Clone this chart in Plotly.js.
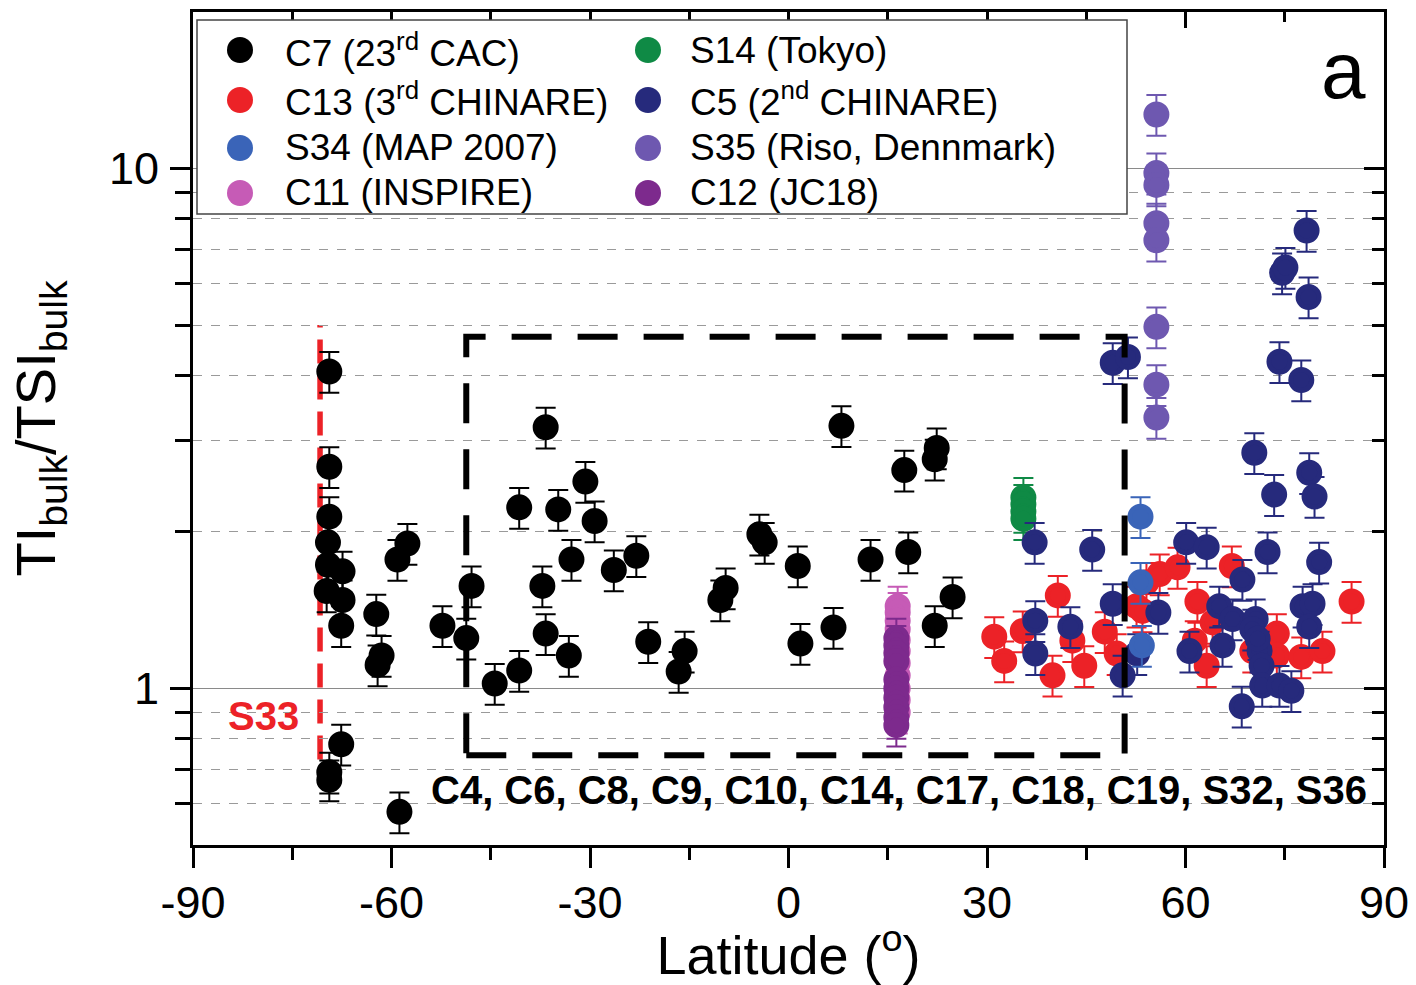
<!DOCTYPE html>
<html>
<head>
<meta charset="utf-8">
<script src="https://cdn.plot.ly/plotly-3.0.1.min.js"></script>
<style>
html,body{margin:0;padding:0;background:#fff;}
#chart{width:1416px;height:985px;}
</style>
</head>
<body>
<div id="chart"></div>
<script>
// ---------- DATA ----------
const seriesNames = [
  "C7 (23<sup>rd</sup> CAC)", "S14 (Tokyo)",
  "C13 (3<sup>rd</sup> CHINARE)", "C5 (2<sup>nd</sup> CHINARE)",
  "S34 (MAP 2007)", "S35 (Riso, Dennmark)",
  "C11 (INSPIRE)", "C12 (JC18)"
];
const seriesColors = ["#000000","#0f8a45","#ec2227","#262a7c","#3a64b8","#6e58b0","#c65bb6","#7d2a8d"];

const c7Lat = [-69.4,-69.4,-69.4,-69.6,-69.6,-67.4,-69.8,-67.4,-67.6,-67.6,-69.4,-69.4,-62.3,-61.5,-62.1,-59.1,-57.6,-58.8,-52.3,-47.9,-48.7,-44.4,-40.7,-40.7,-36.7,-37.2,-36.7,-34.8,-33.2,-32.8,-30.7,-29.3,-26.4,-23.0,-21.2,-15.7,-16.6,-9.5,-10.3,-4.4,-3.6,1.4,1.8,6.8,8.0,12.4,17.5,18.1,22.1,22.4,22.1,24.8];
const c7Val = [4.07,2.67,2.14,1.91,1.73,1.68,1.54,1.48,1.32,0.781,0.69,0.667,1.39,1.157,1.11,1.77,1.90,0.579,1.32,1.575,1.25,1.022,1.083,2.23,3.18,1.575,1.275,2.21,1.157,1.77,2.50,2.10,1.69,1.80,1.23,1.18,1.078,1.56,1.48,1.98,1.91,1.72,1.22,1.31,3.20,1.77,2.63,1.83,2.76,2.90,1.32,1.50];

const s14Lat = [35.5,35.5,35.5,35.5];
const s14Val = [2.33,2.26,2.19,2.12];

const c13Lat = [31.1,32.6,35.4,40.7,39.9,42.9,44.7,47.8,49.6,52.6,53.5,54.1,56.1,58.8,61.8,64.1,63.2,61.4,67.0,73.8,73.8,70.1,77.5,80.7,85.1];
const c13Val = [1.258,1.13,1.29,1.51,1.06,1.236,1.106,1.286,1.167,1.44,1.41,1.60,1.66,1.71,1.47,1.34,1.106,1.236,1.72,1.275,1.157,1.18,1.15,1.18,1.47];

const c5Lat = [49.0,51.3,74.2,77.5,70.4,78.7,73.4,79.5,37.2,45.9,60.1,63.2,72.4,80.2,68.6,49.0,55.9,65.1,67.1,70.6,77.7,79.2,78.7,37.3,42.6,37.3,52.7,60.6,65.6,50.5,71.2,71.5,71.6,74.2,76.0,68.5,70.1,70.9,78.3,74.6,75.1,78.6];
const c5Val = [4.23,4.34,4.25,3.92,2.84,2.60,2.36,2.34,1.91,1.85,1.91,1.87,1.83,1.75,1.62,1.455,1.40,1.44,1.36,1.36,1.44,1.455,1.315,1.35,1.315,1.167,1.167,1.18,1.21,1.06,1.18,1.106,1.013,1.013,0.99,0.924,1.30,1.247,7.6,6.3,6.45,5.66];

const s34Lat = [53.2,53.2,53.4];
const s34Val = [2.14,1.60,1.21];

const s35Lat = [55.6,55.6,55.6,55.6,55.6,55.6,55.6,55.6];
const s35Val = [12.7,9.8,9.3,7.85,7.28,4.96,3.84,3.32];

const c11Lat = [16.5,16.5,16.5,16.5,16.5,16.5,16.5,16.5,16.5,16.5,16.5];
const c11Val = [1.44,1.40,1.35,1.30,1.24,1.18,1.12,1.06,1.00,0.95,0.90];

const c12Lat = [16.3,16.3,16.3,16.3,16.3,16.3,16.3,16.3,16.3,16.3];
const c12Val = [1.25,1.21,1.17,1.13,1.04,1.00,0.96,0.92,0.88,0.85];

const errPercent = 9;

const xTickVals = [-90,-60,-30,0,30,60,90];
const xTickText = ["-90","-60","-30","0","30","60","90"];
const xMinorVals = [-75,-45,-15,15,45,75];
const yTickVals = [1,10];
const yTickText = ["1","10"];
const yMinorVals = [0.6,0.7,0.8,0.9,2,3,4,5,6,7,8,9];

// overlay annotations
const boxLat = [-48.7, 50.8];
const boxVal = [0.744, 4.75];
const s33Lat = -70.8;
const s33Val = [0.73, 5.0];
const s33Label = {text:"S33", lat:-79.4, val:0.884};
const otherLabel = {text:"C4, C6, C8, C9, C10, C14, C17, C18, C19, S32, S36", lat:87.8, val:0.638};
const panelLabel = "a";

// ---------- LAYOUT HELPERS (pixel -> paper) ----------
const W = 1416, H = 985, ML = 193, MR = 32, MT = 12, MB = 140;
const PW = W - ML - MR, PH = H - MT - MB;
const px = v => (v - ML) / PW;
const py = v => (H - MB - v) / PH;

// ---------- TRACES ----------
const seriesData = [
  [c7Lat,c7Val],[s14Lat,s14Val],[c13Lat,c13Val],[c5Lat,c5Val],
  [s34Lat,s34Val],[s35Lat,s35Val],[c11Lat,c11Val],[c12Lat,c12Val]
];
const traces = seriesData.map((d,i) => ({
  type:'scatter', mode:'markers',
  name: seriesNames[i],
  x: d[0], y: d[1],
  showlegend:false,
  marker:{color:seriesColors[i], size:21, line:{color:seriesColors[i], width:5}},
  error_y:{type:'percent', value:errPercent, color:seriesColors[i], thickness:2, width:10}
}));
// dummy trace to draw mirrored (inside-tick) top/right axes
traces.push({type:'scatter', x:[], y:[], xaxis:'x2', yaxis:'y2', showlegend:false, hoverinfo:'skip'});

const fontFam = "Liberation Sans, Arial, Helvetica, sans-serif";

// ---------- LEGEND (drawn as shapes + annotations) ----------
const legMarkerX = [240, 648], legTextX = [283, 688], legRowY = [50, 100, 148, 193];
const legendShapes = [{
  type:'rect', xref:'paper', yref:'paper', x0:px(197), x1:px(1127), y0:py(214), y1:py(20),
  line:{color:'#444', width:1.5}, fillcolor:'#fff', layer:'above'
}];
const legendAnn = [];
seriesNames.forEach((n,i) => {
  const col = i % 2, row = Math.floor(i/2);
  legendShapes.push({
    type:'circle', xref:'paper', yref:'paper', xsizemode:'pixel', ysizemode:'pixel',
    xanchor:px(legMarkerX[col]), yanchor:py(legRowY[row]), x0:-13, x1:13, y0:-13, y1:13,
    fillcolor:seriesColors[i], line:{color:seriesColors[i], width:0}, layer:'above'
  });
  legendAnn.push({
    xref:'paper', yref:'paper', x:px(legTextX[col]), y:py(legRowY[row]), text:n,
    showarrow:false, xanchor:'left', yanchor:'middle', font:{size:37, family:fontFam, color:'#000'}
  });
});

const layout = {
  width:W, height:H,
  margin:{l:ML, r:MR, t:MT, b:MB},
  paper_bgcolor:'#fff', plot_bgcolor:'#fff',
  font:{family:fontFam, color:'#000'},
  showlegend:false,
  xaxis:{
    range:[-90,90], tickmode:'array', tickvals:xTickVals, ticktext:xTickText,
    ticks:'outside', ticklen:20, tickwidth:3, tickcolor:'#000',
    minor:{tickvals:xMinorVals, ticks:'outside', ticklen:12, tickwidth:3, tickcolor:'#000', showgrid:false},
    showline:true, linewidth:3, linecolor:'#000', showgrid:false, zeroline:false,
    tickfont:{size:45}, ticklabelstandoff:-4,
    title:{text:"Latitude (<sup>o</sup>)", font:{size:54}, standoff:22}
  },
  yaxis:{
    type:'log', range:[Math.log10(0.5), Math.log10(20)],
    tickmode:'array', tickvals:yTickVals, ticktext:yTickText,
    ticks:'outside', ticklen:20, tickwidth:3, tickcolor:'#000',
    minor:{tickvals:yMinorVals, ticks:'outside', ticklen:15, tickwidth:3, tickcolor:'#000',
           showgrid:true, gridcolor:'#9a9a9a', gridwidth:1, griddash:'dash'},
    showline:true, linewidth:3, linecolor:'#000',
    showgrid:true, gridcolor:'#8a8a8a', gridwidth:1.2, zeroline:false,
    tickfont:{size:45}, ticklabelstandoff:2,
    title:{text:"TI<sub>bulk</sub>/TSI<sub>bulk</sub>", font:{size:56}, standoff:36}
  },
  xaxis2:{
    overlaying:'x', side:'top', anchor:'y2', range:[-90,90],
    tickmode:'array', tickvals:xTickVals, ticks:'inside', ticklen:16, tickwidth:3, tickcolor:'#000',
    minor:{tickvals:xMinorVals, ticks:'inside', ticklen:10, tickwidth:3, tickcolor:'#000'},
    showticklabels:false, showline:true, linewidth:3, linecolor:'#000', showgrid:false, zeroline:false
  },
  yaxis2:{
    overlaying:'y', side:'right', anchor:'x2', type:'log', range:[Math.log10(0.5), Math.log10(20)],
    tickmode:'array', tickvals:yTickVals, ticks:'inside', ticklen:20, tickwidth:3, tickcolor:'#000',
    minor:{tickvals:yMinorVals, ticks:'inside', ticklen:12, tickwidth:3, tickcolor:'#000'},
    showticklabels:false, showline:true, linewidth:3, linecolor:'#000', showgrid:false, zeroline:false
  },
  shapes:[
    {type:'rect', xref:'x', yref:'y', x0:boxLat[0], x1:boxLat[1], y0:boxVal[0], y1:boxVal[1],
     line:{color:'#000', width:6, dash:'40px,26px'}, fillcolor:'rgba(0,0,0,0)', layer:'above'},
    {type:'line', xref:'x', yref:'y', x0:s33Lat, x1:s33Lat, y0:s33Val[0], y1:s33Val[1],
     line:{color:'#ec2227', width:5.5, dash:'24px,12px'}, layer:'below'}
  ].concat(legendShapes),
  annotations:[
    {xref:'x', yref:'y', x:s33Label.lat, y:Math.log10(s33Label.val), text:"<b>"+s33Label.text+"</b>",
     showarrow:false, font:{size:40, color:'#ec2227', family:fontFam}, xanchor:'center', yanchor:'middle'},
    {xref:'x', yref:'y', x:otherLabel.lat, y:Math.log10(otherLabel.val), text:"<b>"+otherLabel.text+"</b>",
     showarrow:false, font:{size:40, color:'#000', family:fontFam}, xanchor:'right', yanchor:'middle'},
    {xref:'paper', yref:'paper', x:0.966, y:0.93, text:panelLabel, showarrow:false,
     font:{size:80, color:'#000', family:fontFam}, xanchor:'center', yanchor:'middle'}
  ].concat(legendAnn)
};

Plotly.newPlot('chart', traces, layout, {displayModeBar:false, staticPlot:true});
</script>
</body>
</html>
